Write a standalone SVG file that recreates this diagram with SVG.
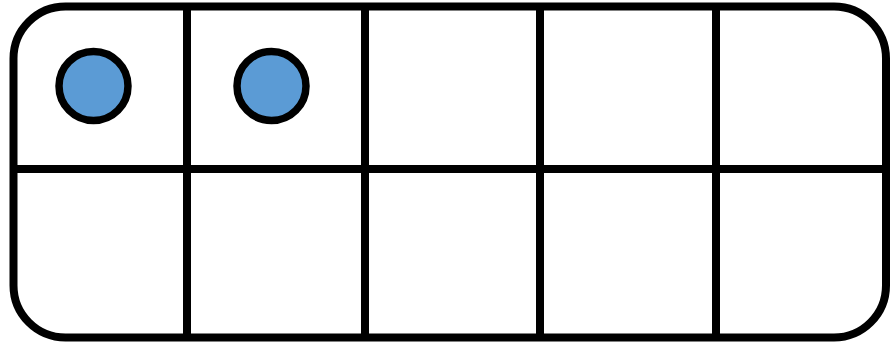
<svg xmlns="http://www.w3.org/2000/svg" width="891" height="343" viewBox="0 0 891 343">
<style>
.ln{stroke:#000;stroke-width:8;fill:none}
.dot{fill:#5b9bd5;stroke:#000;stroke-width:7.5}
</style>
<rect width="891" height="343" fill="#fff"/>
<g id="frame">
<rect class="ln" x="13.5" y="6.5" width="872.5" height="331" rx="52" ry="52"/>
</g>
<g id="grid">
<line class="ln" x1="13.5" y1="169" x2="886" y2="169"/>
<line class="ln" x1="187" y1="6.5" x2="187" y2="337.5"/>
<line class="ln" x1="365" y1="6.5" x2="365" y2="337.5"/>
<line class="ln" x1="540" y1="6.5" x2="540" y2="337.5"/>
<line class="ln" x1="716" y1="6.5" x2="716" y2="337.5"/>
</g>
<g id="counter1"><circle class="dot" cx="93.5" cy="86" r="34.5"/></g>
<g id="counter2"><circle class="dot" cx="271.5" cy="86" r="34.5"/></g>
</svg>
